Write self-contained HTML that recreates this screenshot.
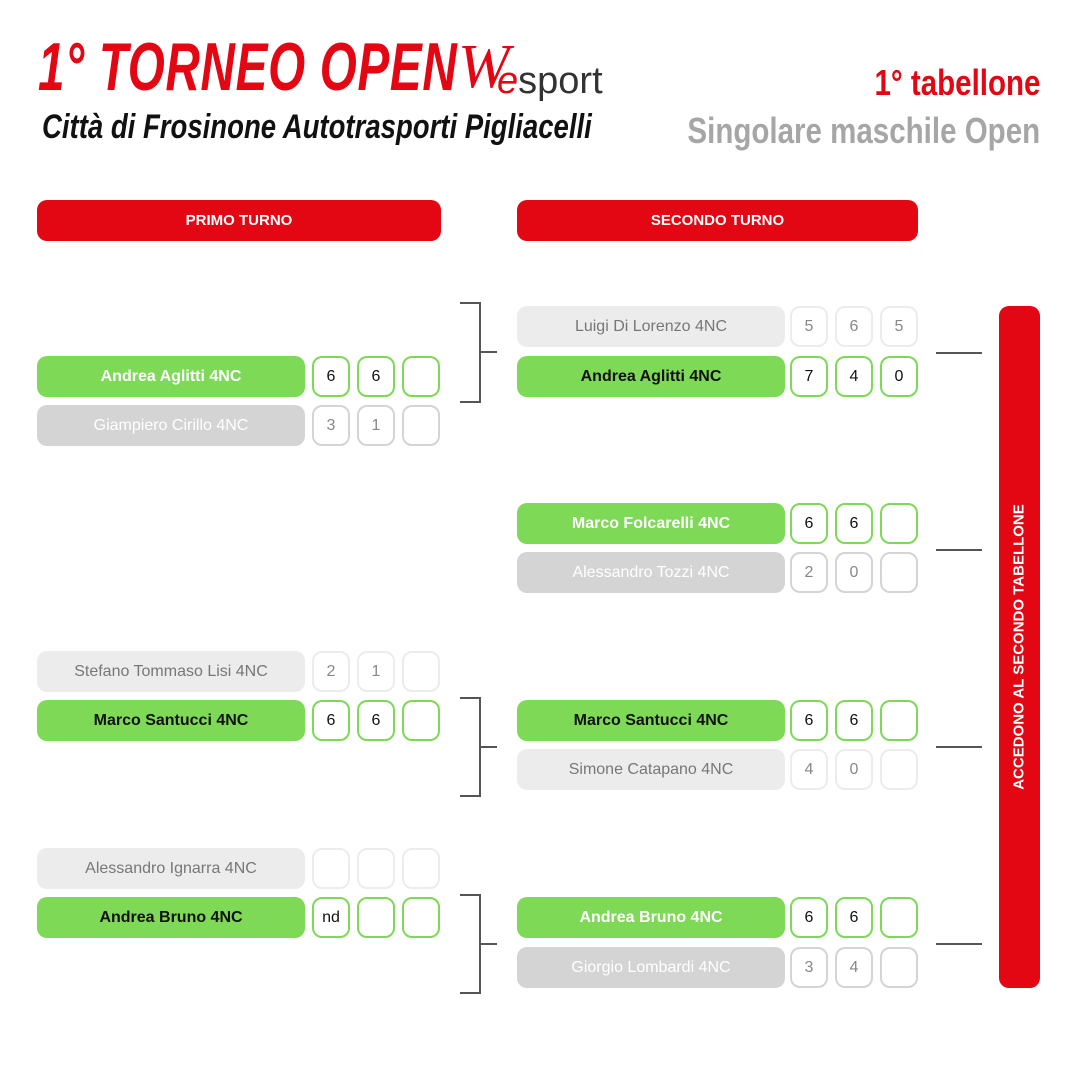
<!DOCTYPE html>
<html><head><meta charset="utf-8"><style>
body{margin:0;width:1080px;height:1080px;background:#fff;position:relative;overflow:hidden;font-family:"Liberation Sans",sans-serif}
.a{position:absolute;box-sizing:border-box}
.n{height:41px;width:268px;border-radius:10px;display:flex;align-items:center;justify-content:center;font-size:16px}
.s{height:41px;width:38px;border-radius:10px;border:2px solid;display:flex;align-items:center;justify-content:center;font-size:16px;background:#fff}
.g{background:#7ed957;font-weight:bold}
.gw{color:#fff}.gb{color:#111}
.d{background:#d4d4d4;color:#fff}
.l{background:#ececec;color:#777}
.h{background:#e30613;color:#fff;font-weight:bold;font-size:15px;border-radius:10px;height:41px;display:flex;align-items:center;justify-content:center}
.ln{background:#555}
</style></head><body>
<div class="a" style="left:38px;top:28px;font-size:68px;font-weight:bold;font-style:italic;color:#e30613;transform:scaleX(0.7);transform-origin:left;letter-spacing:1px;white-space:nowrap">1° TORNEO OPEN</div>
<div class="a" style="left:458px;top:32px;font-size:62px;font-style:italic;font-family:'Liberation Serif',serif;color:#e30613">W</div>
<div class="a" style="left:497px;top:60px;font-size:38px;color:#333;white-space:nowrap"><span style="color:#e30613;font-style:italic">e</span>sport</div>
<div class="a" style="left:42px;top:108px;font-size:34px;font-weight:bold;font-style:italic;color:#111;transform:scaleX(0.81);transform-origin:left;white-space:nowrap">Città di Frosinone Autotrasporti Pigliacelli</div>
<div class="a" style="right:40px;top:62px;font-size:36px;font-weight:bold;color:#e30613;transform:scaleX(0.82);transform-origin:right;white-space:nowrap">1° tabellone</div>
<div class="a" style="right:40px;top:110px;font-size:36px;font-weight:bold;color:#a6a6a6;transform:scaleX(0.82);transform-origin:right;white-space:nowrap">Singolare maschile Open</div>
<div class="a h" style="left:37px;top:200px;width:404px">PRIMO TURNO</div>
<div class="a h" style="left:517px;top:200px;width:401px">SECONDO TURNO</div>
<div class="a" style="left:999px;top:306px;width:41px;height:682px;background:#e30613;border-radius:10px"></div>
<div class="a" style="left:1019px;top:647px;transform:translate(-50%,-50%) rotate(-90deg);color:#fff;font-weight:bold;font-size:15px;white-space:nowrap">ACCEDONO AL SECONDO TABELLONE</div>
<div id="rows"></div>
<script>
var rows=[
[37,356,'Andrea Aglitti 4NC','g gw',['6','6',''],'#7ed957'],
[37,405,'Giampiero Cirillo 4NC','d',['3','1',''],'#d4d4d4'],
[37,651,'Stefano Tommaso Lisi 4NC','l',['2','1',''],'#ececec'],
[37,700,'Marco Santucci 4NC','g gb',['6','6',''],'#7ed957'],
[37,848,'Alessandro Ignarra 4NC','l',['','',''],'#ececec'],
[37,897,'Andrea Bruno 4NC','g gb',['nd','',''],'#7ed957'],
[517,306,'Luigi Di Lorenzo 4NC','l',['5','6','5'],'#ececec'],
[517,356,'Andrea Aglitti 4NC','g gb',['7','4','0'],'#7ed957'],
[517,503,'Marco Folcarelli 4NC','g gw',['6','6',''],'#7ed957'],
[517,552,'Alessandro Tozzi 4NC','d',['2','0',''],'#d4d4d4'],
[517,700,'Marco Santucci 4NC','g gb',['6','6',''],'#7ed957'],
[517,749,'Simone Catapano 4NC','l',['4','0',''],'#ececec'],
[517,897,'Andrea Bruno 4NC','g gw',['6','6',''],'#7ed957'],
[517,947,'Giorgio Lombardi 4NC','d',['3','4',''],'#d4d4d4']];
var h='';
rows.forEach(function(r){
h+='<div class="a n '+r[3]+'" style="left:'+r[0]+'px;top:'+r[1]+'px">'+r[2]+'</div>';
var off=r[0]==37?[275,320,365]:[273,318,363];
var col=r[5]=='#7ed957'?'#111':'#888';
for(var i=0;i<3;i++)h+='<div class="a s" style="left:'+(r[0]+off[i])+'px;top:'+r[1]+'px;border-color:'+r[5]+';color:'+col+'">'+r[4][i]+'</div>';
});
[[302,401],[697,795],[894,992]].forEach(function(b){
h+='<div class="a ln" style="left:460px;top:'+b[0]+'px;width:21px;height:2px"></div>';
h+='<div class="a ln" style="left:460px;top:'+b[1]+'px;width:21px;height:2px"></div>';
h+='<div class="a ln" style="left:479px;top:'+b[0]+'px;width:2px;height:'+(b[1]-b[0]+2)+'px"></div>';
h+='<div class="a ln" style="left:479px;top:'+((b[0]+b[1])>>1)+'px;width:18px;height:2px"></div>';
});
[352,549,746,943].forEach(function(y){h+='<div class="a ln" style="left:936px;top:'+y+'px;width:46px;height:2px"></div>';});
document.getElementById('rows').innerHTML=h;
</script>
</body></html>
